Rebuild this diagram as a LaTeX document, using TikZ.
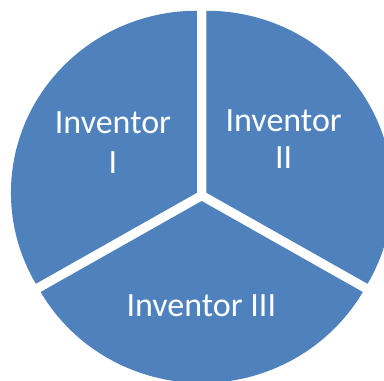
\documentclass[tikz,border=0pt]{standalone}
\usepackage{fontspec}
\setmainfont{Carlito}
\usetikzlibrary{calc}
\definecolor{pieblue}{HTML}{4F81BD}
\begin{document}
\begin{tikzpicture}[x=1pt,y=1pt,
  sector/.style={fill=pieblue},
  lbl/.style={text=white, align=center, inner sep=0pt}]
\useasboundingbox (0,0) rectangle (384,381);
\clip (0,0) rectangle (384,381);
\def\rx{186}\def\ry{182}\def\off{5.5}
\coordinate (C) at (201.7,185.5);
% Inventor I sector
\fill[sector] ($(C)+(150:\off)$) -- ++(0,\ry)
  arc[start angle=90,end angle=210,x radius=\rx,y radius=\ry] -- cycle;
% Inventor II sector
\fill[sector] ($(C)+(30:\off)$) -- ++(0,\ry)
  arc[start angle=90,end angle=-30,x radius=\rx,y radius=\ry] -- cycle;
% Inventor III sector
\fill[sector] ($(C)+(270:\off)$) -- ++({\rx*cos(210)},{\ry*sin(210)})
  arc[start angle=210,end angle=330,x radius=\rx,y radius=\ry] -- cycle;
\node[lbl, font=\fontsize{34}{40}\selectfont] (inv1) at (113,238.3) {Inventor\\I};
\node[lbl, font=\fontsize{34}{37}\selectfont] (inv2) at (283.7,241.5) {Inventor\\II};
\node[lbl, font=\fontsize{34}{40}\selectfont] (inv3) at (201.3,75.1) {Inventor III};
\end{tikzpicture}
\end{document}
